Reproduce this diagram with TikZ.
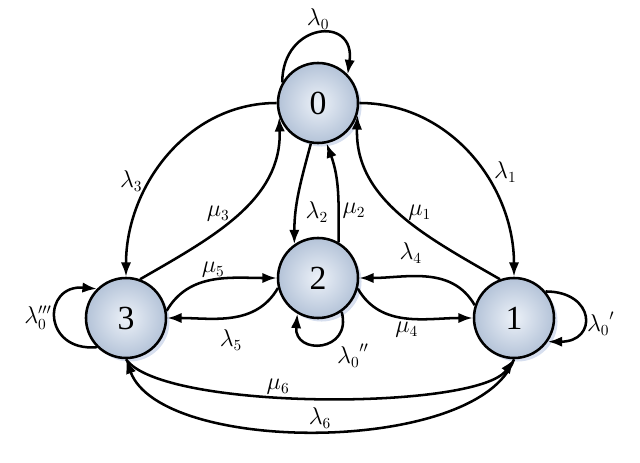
\documentclass[tikz,border=0pt]{standalone}
\usepackage{fontspec}
\setmainfont{Liberation Serif}
\usetikzlibrary{arrows.meta,shadows}
\definecolor{statein}{RGB}{236,241,248}
\definecolor{stateout}{RGB}{180,195,216}
\definecolor{halo}{RGB}{205,215,235}

\begin{document}
\begin{tikzpicture}[x=0.025cm,y=0.025cm,
    state/.style={circle,draw,line width=1.8pt,minimum size=2cm,inner sep=0pt,
        shading=radial,inner color=statein,outer color=stateout,
        drop shadow={shadow xshift=2.5pt,shadow yshift=-2.5pt,fill=halo,opacity=0.8},
        font=\fontsize{24}{28}\selectfont},
    trans/.style={line width=1.8pt,-{Latex[length=3.6mm,width=2.6mm]}},
    rate/.style={font=\fontsize{16}{18}\selectfont,inner sep=2pt}]
    \useasboundingbox (0,0) rectangle (640,462);
    \node[state] (s0) at (318,359) {0};
    \node[state] (s2) at (318,184) {2};
    \node[state] (s3) at (126,144) {3};
    \node[state] (s1) at (514,144) {1};

    \draw[trans] (s0.150) .. controls +(90:60) and +(82:60) .. (s0.44) node[rate,pos=0.5,above]{$\lambda_0$};
    \draw[trans] (s0.west) to[out=180,in=90] node[rate,pos=0.62,left=3pt]{$\lambda_3$} (s3.north);
    \draw[trans] (s3.70) to[out=30,in=-88] node[rate,pos=0.5,left=3pt]{$\mu_3$} (s0.200);
    \draw[trans] (s0.east) to[out=0,in=90] node[rate,pos=0.58,right=5pt]{$\lambda_1$} (s1.north);
    \draw[trans] (s1.110) to[out=150,in=-92] node[rate,pos=0.5,right=3pt]{$\mu_1$} (s0.-17);
    \draw[trans] (s0.260) to[out=-105,in=90] node[rate,pos=0.7,right=4pt]{$\lambda_2$} (s2.125);
    \draw[trans] (s2.60) to[out=90,in=-70] node[rate,pos=0.3,right]{$\mu_2$} (s0.-78);
    \draw[trans] (s3.10) to[out=60,in=180] node[rate,pos=0.5,above,inner sep=1pt]{$\mu_5$} (s2.west);
    \draw[trans] (s2.194) to[out=-120,in=0] node[rate,pos=0.5,below=6pt]{$\lambda_5$} (s3.east);
    \draw[trans] (s1.162) to[out=120,in=0] node[rate,pos=0.62,above=6pt]{$\lambda_4$} (s2.east);
    \draw[trans] (s2.-15) to[out=-60,in=180] node[rate,pos=0.5,below]{$\mu_4$} (s1.west);
    \draw[trans] (s2.-55) .. controls +(-75:42) and +(-95:42) .. (s2.-120) node[rate,pos=0.35,below right]{${\lambda_0}''$};
    \draw[trans] (s3.225) .. controls +(185:55) and +(175:55) .. (s3.135) node[rate,pos=0.5,left]{$\lambda_0'''$};
    \draw[trans] (s1.40) .. controls +(0:50) and +(0:50) .. (s1.-35) node[rate,pos=0.6,right]{${\lambda_0}'$};
    \draw[trans] (s3.south) .. controls +(-55:63) and +(-125:63) .. (s1.south) node[rate,pos=0.42,above,inner sep=1pt]{$\mu_6$};
    \draw[trans] (s1.south) .. controls +(-110:102) and +(-70:102) .. (s3.south) node[rate,pos=0.5,above,inner sep=1pt]{$\lambda_6$};
\end{tikzpicture}
\end{document}
